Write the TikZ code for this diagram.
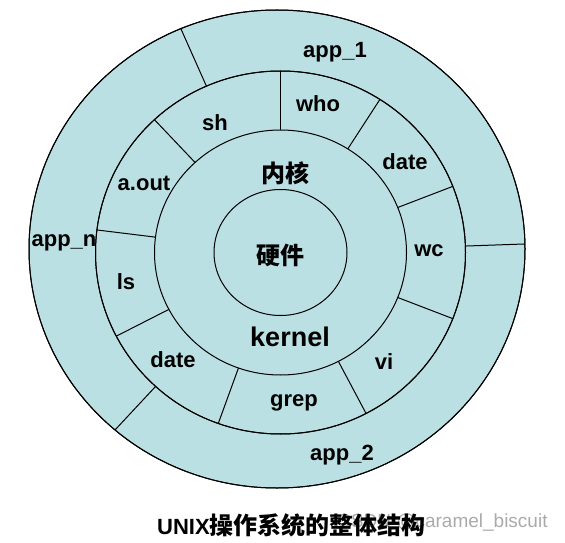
\documentclass[tikz,border=0pt]{standalone}
\usepackage{fontspec}
\setmainfont{Liberation Sans}
\newfontfamily\cjk{Noto Sans CJK SC}
\definecolor{ringfill}{RGB}{187,224,227}
\definecolor{wmark}{RGB}{170,170,170}
\tikzset{
  ring/.style={fill=ringfill, draw=black, line width=1pt},
  rimline/.style={draw=black, line width=1pt},
  divider/.style={draw=black, line width=1pt},
  lbl/.style={font=\fontsize{22}{26}\selectfont\bfseries, inner sep=0pt},
  cjklbl/.style={font=\cjk\fontsize{24}{28}\selectfont\bfseries, inner sep=0pt},
}
\begin{document}
\begin{tikzpicture}[x=1pt,y=1pt]
\useasboundingbox (0,0) rectangle (565,542);
\coordinate (C0) at (277,293);
\coordinate (C) at (280.5,289.5);
% outer ring
\path[ring] (C0) ellipse [x radius=248, y radius=239];
\begin{scope}
  \clip (C0) ellipse [x radius=248, y radius=239];
  \foreach \a in {114,2,227} \draw[divider] (C) -- ++(\a:400);
\end{scope}
\path[rimline] (C0) ellipse [x radius=248, y radius=239];
% middle ring
\path[ring] (C) ellipse [x radius=185, y radius=181.5];
\begin{scope}
  \clip (C) ellipse [x radius=185, y radius=181.5];
  \foreach \a in {90,57,21,-21,-62,-110,207,173,133.5} \draw[divider] (C) -- ++(\a:300);
\end{scope}
\path[rimline] (C) ellipse [x radius=185, y radius=181.5];
% kernel
\path[ring] (C) ellipse [x radius=126, y radius=122.5];
% hardware
\path[ring] (C) ellipse [x radius=66.5, y radius=63];
% labels
\node[lbl] (app1) at (335,490) {app\_1};
\node[lbl] (appn) at (64,299) {app\_n};
\node[lbl] (app2) at (342,87) {app\_2};
\node[lbl] (sh) at (215,419) {sh};
\node[lbl] (who) at (318,438) {who};
\node[lbl] (date1) at (405,380) {date};
\node[lbl] (wc) at (429,291) {wc};
\node[lbl] (vi) at (384,180) {vi};
\node[lbl] (grep) at (294,139) {grep};
\node[lbl] (date2) at (173,182) {date};
\node[lbl] (ls) at (126,260) {ls};
\node[lbl] (aout) at (144,359) {a.out};
\node[cjklbl] (neihe) at (285,369) {内核};
\node[cjklbl] (yingjian) at (280,287) {硬件};
\node[lbl, font=\fontsize{27}{32}\selectfont\bfseries] (kernel) at (290,205) {kernel};
% watermark and caption
\node[anchor=west, inner sep=0pt, text=wmark, font=\fontsize{19}{22}\selectfont] (wm) at (337,19) {CSDN @caramel\_biscuit};
\node[anchor=west, inner sep=0pt, font=\fontsize{22}{26}\selectfont\bfseries] (cap) at (157,17) {UNIX{\cjk\fontsize{24}{28}\selectfont 操作系统的整体结构}};
\end{tikzpicture}
\end{document}
